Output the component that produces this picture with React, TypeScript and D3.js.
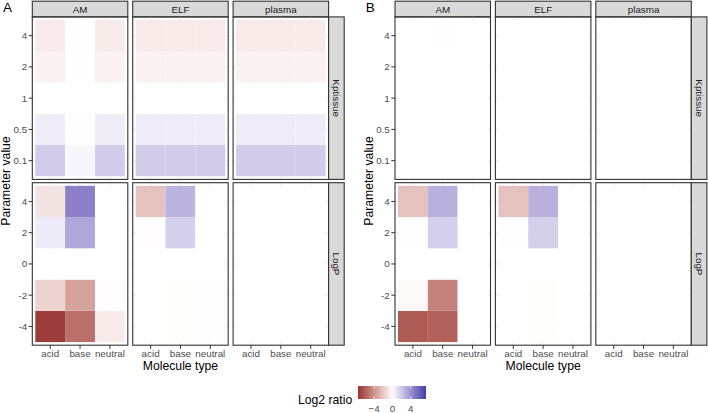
import React from "react";
import * as d3 from "d3";

const figurePanels = ["A", "B"];
const compartments = ["AM", "ELF", "plasma"];
const moleculeTypes = ["acid", "base", "neutral"];
const parameterNames = ["Kptissue", "LogP"];
const kptissueLevels = ["0.1", "0.5", "1", "2", "4"];
const logpLevels = ["-4", "-2", "0", "2", "4"];
const legendTicks = [-4, 0, 4];
const legendLimits = [-7.5, 7.3];

// Log2 ratio per tile: rows = [acid, base, neutral]; values follow the level order (bottom to top)
const A_Kptissue_AM = [
  [1.8, 0.65, 0, -0.45, -0.75],
  [0.3, 0.03, 0, -0.02, -0.03],
  [1.8, 0.65, 0, -0.45, -0.75],
];
const A_Kptissue_ELF = [
  [1.8, 0.65, 0, -0.45, -0.75],
  [1.8, 0.65, 0, -0.45, -0.75],
  [1.8, 0.65, 0, -0.45, -0.75],
];
const A_Kptissue_plasma = [
  [1.8, 0.65, 0, -0.45, -0.75],
  [1.8, 0.65, 0, -0.45, -0.75],
  [1.8, 0.65, 0, -0.45, -0.75],
];
const A_LogP_AM = [
  [-7.2, -1.6, 0, 0.7, -1.0],
  [-5.3, -3.4, 0, 3.2, 4.6],
  [-0.7, -0.1, 0, 0, 0],
];
const A_LogP_ELF = [
  [0, 0, 0, -0.1, -2.2],
  [-0.05, -0.05, 0, 1.7, 2.7],
  [-0.02, -0.02, 0, 0, 0],
];
const A_LogP_plasma = [
  [0, 0, 0, 0, 0],
  [0, 0, 0, 0, 0],
  [0, 0, 0, 0, 0],
];
const B_Kptissue_AM = [
  [0, 0, 0, 0, 0],
  [0, 0, 0, 0, -0.04],
  [0, 0, 0, 0, 0],
];
const B_Kptissue_ELF = [
  [0, 0, 0, 0, 0],
  [0, 0, 0, 0, 0],
  [0, 0, 0, 0, 0],
];
const B_Kptissue_plasma = [
  [0, 0, 0, 0, 0],
  [0, 0, 0, 0, 0],
  [0, 0, 0, 0, 0],
];
const B_LogP_AM = [
  [-6.1, -0.25, 0, -0.03, -2.2],
  [-5.9, -4.6, 0, 1.7, 2.8],
  [0, 0, 0, 0, 0],
];
const B_LogP_ELF = [
  [0, 0, 0, -0.03, -2.2],
  [-0.05, -0.05, 0, 1.7, 2.8],
  [0, 0, 0, 0, 0],
];
const B_LogP_plasma = [
  [0, 0, 0, 0, 0],
  [0, 0, 0, 0, 0],
  [0, 0, 0, 0, 0],
];

const tileData: Record<string, number[][]> = {
  A_Kptissue_AM, A_Kptissue_ELF, A_Kptissue_plasma,
  A_LogP_AM, A_LogP_ELF, A_LogP_plasma,
  B_Kptissue_AM, B_Kptissue_ELF, B_Kptissue_plasma,
  B_LogP_AM, B_LogP_ELF, B_LogP_plasma,
};

const FONT = "'Liberation Sans', Arial, Helvetica, sans-serif";
const LOW = "#973434";
const HIGH = "#3a3aa4";

const color = d3
  .scaleLinear<string>()
  .domain([-7.5, 0, 7.5])
  .range([LOW, "#ffffff", HIGH])
  .interpolate(d3.interpolateLab)
  .clamp(true);

const PANEL_LEFT = 32.3;
const PANEL_W = 95.5;
const PANEL_GAP = 4.9;
const STRIP_TOP = 1.2;
const ROW_TOP = 16.9;
const ROW_H = 162.5;
const ROW_GAP = 3.3;
const STRIP_W = 15.6;
const FIG_OFFSET = 362.7;

function Facet({ ox, oy, fig, param, comp }: any) {
  const levels = param === "Kptissue" ? kptissueLevels : logpLevels;
  const x = d3.scalePoint<string>().domain(moleculeTypes).range([ox, ox + PANEL_W]).padding(0.6);
  const y = d3.scalePoint<string>().domain(levels).range([oy + ROW_H, oy]).padding(0.6);
  const sx = x.step();
  const sy = y.step();
  const vals = tileData[`${fig}_${param}_${comp}`];
  return (
    <g>
      {moleculeTypes.map((t) => (
        <line key={"gx" + t} x1={x(t)} x2={x(t)} y1={oy} y2={oy + ROW_H} stroke="#ebebeb" strokeWidth={1} />
      ))}
      {levels.map((l) => (
        <line key={"gy" + l} x1={ox} x2={ox + PANEL_W} y1={y(l)} y2={y(l)} stroke="#ebebeb" strokeWidth={1} />
      ))}
      {moleculeTypes.map((t, i) =>
        levels.map((l, j) => (
          <rect
            key={t + l}
            x={(x(t) as number) - sx / 2}
            y={(y(l) as number) - sy / 2}
            width={sx}
            height={sy}
            fill={color(vals[i][j])}
          />
        ))
      )}
      <rect x={ox} y={oy} width={PANEL_W} height={ROW_H} fill="none" stroke="#333333" strokeWidth={1.1} />
    </g>
  );
}

function Figure({ fig, fx }: any) {
  const panelX = (c: number) => fx + PANEL_LEFT + c * (PANEL_W + PANEL_GAP);
  const rightX = panelX(2) + PANEL_W;
  const rowY = (r: number) => ROW_TOP + r * (ROW_H + ROW_GAP);
  const bottom = rowY(1) + ROW_H;
  return (
    <g>
      <text x={fx + 3} y={12} fontSize={13.5} fill="#000" fontFamily={FONT}>{fig}</text>
      {compartments.map((comp, c) => (
        <g key={comp}>
          <rect x={panelX(c)} y={STRIP_TOP} width={PANEL_W} height={ROW_TOP - STRIP_TOP} fill="#d9d9d9" stroke="#333333" strokeWidth={1.1} />
          <text x={panelX(c) + PANEL_W / 2} y={(STRIP_TOP + ROW_TOP) / 2 + 3.5} textAnchor="middle" fontSize={9.8} fill="#1a1a1a" fontFamily={FONT}>{comp}</text>
        </g>
      ))}
      {parameterNames.map((param, r) => {
        const levels = param === "Kptissue" ? kptissueLevels : logpLevels;
        const y = d3.scalePoint<string>().domain(levels).range([rowY(r) + ROW_H, rowY(r)]).padding(0.6);
        const cy = rowY(r) + ROW_H / 2;
        return (
          <g key={param}>
            {compartments.map((comp, c) => (
              <Facet key={comp} ox={panelX(c)} oy={rowY(r)} fig={fig} param={param} comp={comp} />
            ))}
            <rect x={rightX} y={rowY(r)} width={STRIP_W} height={ROW_H} fill="#d9d9d9" stroke="#333333" strokeWidth={1.1} />
            <text transform={`translate(${rightX + STRIP_W / 2 - 3.5},${cy}) rotate(90)`} textAnchor="middle" fontSize={9.8} fill="#1a1a1a" fontFamily={FONT}>{param}</text>
            {levels.map((l) => (
              <g key={l}>
                <line x1={panelX(0) - 3.7} x2={panelX(0)} y1={y(l)} y2={y(l)} stroke="#333333" strokeWidth={1} />
                <text x={panelX(0) - 5.2} y={(y(l) as number) + 3.5} textAnchor="end" fontSize={9.8} fill="#4d4d4d" fontFamily={FONT}>{l}</text>
              </g>
            ))}
          </g>
        );
      })}
      {compartments.map((comp, c) => {
        const x = d3.scalePoint<string>().domain(moleculeTypes).range([panelX(c), panelX(c) + PANEL_W]).padding(0.6);
        return (
          <g key={"x" + comp}>
            {moleculeTypes.map((t) => (
              <g key={t}>
                <line x1={x(t)} x2={x(t)} y1={bottom} y2={bottom + 3.7} stroke="#333333" strokeWidth={1} />
                <text x={x(t)} y={bottom + 12.1} textAnchor="middle" fontSize={9.8} fill="#4d4d4d" fontFamily={FONT}>{t}</text>
              </g>
            ))}
          </g>
        );
      })}
      <text x={(panelX(0) + rightX) / 2} y={bottom + 24.3} textAnchor="middle" fontSize={12.2} fill="#000" fontFamily={FONT}>Molecule type</text>
      <text transform={`translate(${fx + 10},${(ROW_TOP + bottom) / 2}) rotate(-90)`} textAnchor="middle" fontSize={12.2} fill="#000" fontFamily={FONT}>Parameter value</text>
    </g>
  );
}

function Legend() {
  const lx = d3.scaleLinear().domain(legendLimits).range([358, 426]);
  const top = 386;
  const h = 13;
  const stops = d3.range(0, 1.0001, 0.05).map((f) => {
    const v = legendLimits[0] + f * (legendLimits[1] - legendLimits[0]);
    return { off: f, c: color(v) };
  });
  const fmt = (v: number) => (v < 0 ? "\u2212" + Math.abs(v) : String(v));
  return (
    <g>
      <defs>
        <linearGradient id="lg" x1="0" x2="1" y1="0" y2="0">
          {stops.map((s, i) => (
            <stop key={i} offset={s.off} stopColor={s.c} />
          ))}
        </linearGradient>
      </defs>
      <text x={298} y={404} fontSize={12.2} fill="#000" fontFamily={FONT}>Log2 ratio</text>
      <rect x={lx(legendLimits[0])} y={top} width={lx(legendLimits[1]) - lx(legendLimits[0])} height={h} fill="url(#lg)" />
      {legendTicks.map((t) => (
        <g key={t}>
          <line x1={lx(t)} x2={lx(t)} y1={top} y2={top + 2.6} stroke="#fff" strokeWidth={0.8} />
          <line x1={lx(t)} x2={lx(t)} y1={top + h - 2.6} y2={top + h} stroke="#fff" strokeWidth={0.8} />
          <text x={lx(t)} y={411.5} textAnchor="middle" fontSize={9.8} fill="#4d4d4d" fontFamily={FONT}>{fmt(t)}</text>
        </g>
      ))}
    </g>
  );
}

export default function App() {
  return (
    <svg width={708} height={413} style={{ position: "absolute", left: 0, top: 0, background: "#fff" }}>
      <rect x={0} y={0} width={708} height={413} fill="#fff" />
      {figurePanels.map((fig, i) => (
        <Figure key={fig} fig={fig} fx={i * FIG_OFFSET} />
      ))}
      <Legend />
    </svg>
  );
}
